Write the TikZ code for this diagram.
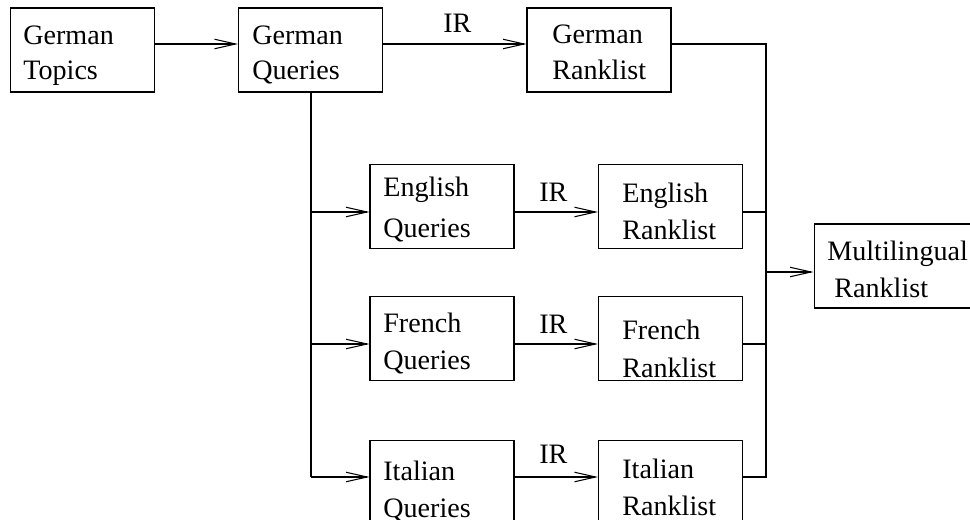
\documentclass[tikz,border=0pt]{standalone}
\usepackage{fontspec}
\setmainfont{Liberation Serif}
\usetikzlibrary{arrows.meta}
\tikzset{
  box/.style={draw, line width=0.6pt, minimum width=2.88cm, minimum height=1.68cm, inner sep=0pt},
  lbl/.style={anchor=base west, align=left, inner sep=0pt, font=\fontsize{16}{20}\selectfont},
  conn/.style={line width=0.6pt},
  arr/.style={conn, -{Straight Barb[length=4.2mm, width=1.9mm]}}
}
\begin{document}
\begin{tikzpicture}[x=0.02cm, y=-0.02cm]
\useasboundingbox (0,0) rectangle (970,520);
\clip (0,0) rectangle (970,520);
% boxes
\node[box] (gt) at (82.5,50){};
\node[box] (gq) at (310.5,50){};
\node[box] (gr) at (599,50){};
\node[box] (eq) at (442,206.5){};
\node[box] (er) at (670.5,206.5){};
\node[box] (fq) at (442,338.5){};
\node[box] (fr) at (670.5,338.5){};
\node[box] (iq) at (442,482.5){};
\node[box] (ir) at (670.5,482.5){};
\node[box, minimum width=3.32cm] (ml) at (897,266){};
% texts (placed at the baseline of the last line)
\node[lbl] (gtt) at (23,80){German\\Topics};
\node[lbl] (gqt) at (252,80){German\\Queries};
\node[lbl] (grt) at (552,80){German\\[0.5pt]Ranklist};
\node[lbl] (eqt) at (383,237){English\\[3pt]Queries};
\node[lbl] (ert) at (622,239){English\\[1pt]Ranklist};
\node[lbl] (fqt) at (383,369){French\\[1pt]Queries};
\node[lbl] (frt) at (622,377){French\\[1.5pt]Ranklist};
\node[lbl] (iqt) at (383,517){Italian\\[0.5pt]Queries};
\node[lbl] (irt) at (622,515){Italian\\[0.5pt]Ranklist};
\node[lbl] (mlt) at (827,297){Multilingual\\[1pt]\ Ranklist};
\node[lbl] (ir0) at (443,33){IR};
\node[lbl] (ir1) at (539,202){IR};
\node[lbl] (ir2) at (539,333){IR};
\node[lbl] (ir3) at (539,463){IR};
% rows
\coordinate (r0) at (0,44);
\coordinate (r1) at (0,212);
\coordinate (r2) at (0,344);
\coordinate (r3) at (0,477);
\coordinate (split) at (311,477);
\coordinate (merge) at (766,272);
% connectors
\draw[arr] (gt.east |- r0) -- (gq.west |- r0);
\draw[arr] (gq.east |- r0) -- (gr.west |- r0);
\draw[conn] (gq.south -| split) -- (split);
\draw[arr] (split |- r1) -- (eq.west |- r1);
\draw[arr] (split |- r2) -- (fq.west |- r2);
\draw[arr] (split) -- (iq.west |- r3);
\draw[arr] (eq.east |- r1) -- (er.west |- r1);
\draw[arr] (fq.east |- r2) -- (fr.west |- r2);
\draw[arr] (iq.east |- r3) -- (ir.west |- r3);
\draw[conn] (gr.east |- r0) -| (merge |- r3) -- (ir.east |- r3);
\draw[conn] (er.east |- r1) -- (merge |- r1);
\draw[conn] (fr.east |- r2) -- (merge |- r2);
\draw[arr] (merge) -- (ml.west |- merge);
\end{tikzpicture}
\end{document}
